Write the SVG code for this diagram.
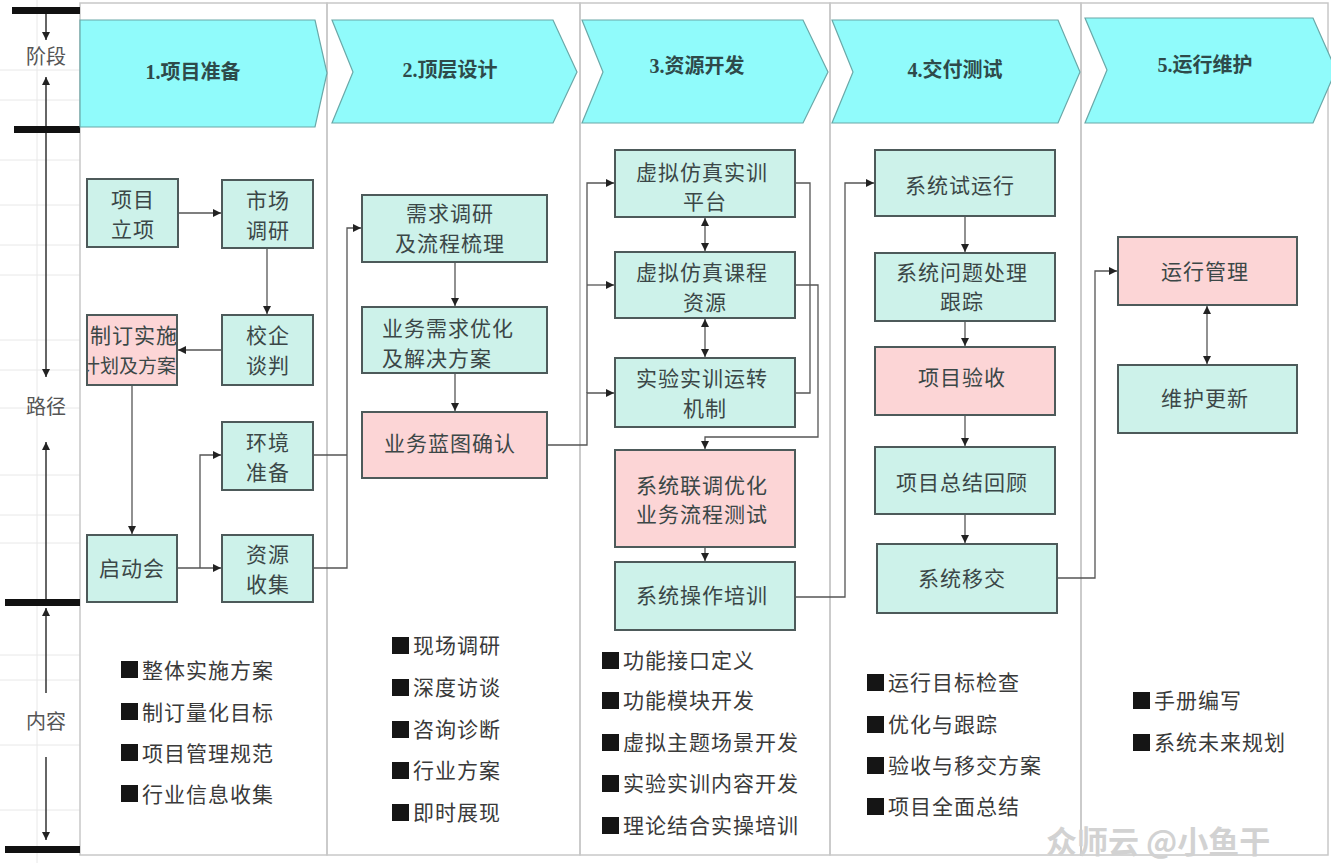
<svg xmlns="http://www.w3.org/2000/svg" width="1331" height="863" viewBox="0 0 1331 863">
<style>
.bg{fill:#ffffff}
.grid{stroke:#e8e8e8;stroke-width:1}
.col{fill:none;stroke:#c8c8c8;stroke-width:1.5}
.bar{fill:#111}
.axis{stroke:#333;stroke-width:1.5;fill:none}
.axl{font-family:"Noto Sans CJK SC",sans-serif;font-size:20px;fill:#555;text-anchor:middle}
.hdr{fill:#90fbfb;stroke:#6aa8a8;stroke-width:1.2}
.ht{font-family:"Liberation Serif","Noto Sans CJK SC",serif;font-size:20px;font-weight:bold;fill:#2e4a4a;text-anchor:middle}
.g{fill:#cdf2ea;stroke:#4d5a5a;stroke-width:2}
.p{fill:#fcd5d6;stroke:#4d5a5a;stroke-width:2}
.t{font-family:"Noto Sans CJK SC",sans-serif;font-size:21px;fill:#3b4747;text-anchor:middle;letter-spacing:1px}
.ln{stroke:#555;stroke-width:1.3;fill:none}
.li{font-family:"Noto Sans CJK SC",sans-serif;font-size:21px;fill:#3a3a3a;letter-spacing:1px}
.sq{fill:#151515}
.wm{font-family:"Noto Sans CJK SC",sans-serif;font-size:31px;fill:#d2d2d2;font-weight:bold}
</style>
<defs>
<marker id="ah" markerWidth="9" markerHeight="9" refX="8" refY="4" orient="auto-start-reverse" markerUnits="userSpaceOnUse">
<path d="M0,0 L8,4 L0,8 z" fill="#222"/>
</marker>
<clipPath id="clipZD"><rect x="88" y="316" width="88" height="68"/></clipPath>
</defs>
<rect class="bg" x="0" y="0" width="1331" height="863"/>
<g id="grid">
<line class="grid" x1="0" y1="70" x2="80" y2="70"/>
<line class="grid" x1="0" y1="100" x2="80" y2="100"/>
<line class="grid" x1="0" y1="160" x2="80" y2="160"/>
<line class="grid" x1="0" y1="205" x2="80" y2="205"/>
<line class="grid" x1="0" y1="245" x2="80" y2="245"/>
<line class="grid" x1="0" y1="275" x2="80" y2="275"/>
<line class="grid" x1="0" y1="340" x2="80" y2="340"/>
<line class="grid" x1="0" y1="370" x2="80" y2="370"/>
<line class="grid" x1="0" y1="408" x2="80" y2="408"/>
<line class="grid" x1="0" y1="475" x2="80" y2="475"/>
<line class="grid" x1="0" y1="515" x2="80" y2="515"/>
<line class="grid" x1="0" y1="543" x2="80" y2="543"/>
<line class="grid" x1="0" y1="655" x2="80" y2="655"/>
<line class="grid" x1="0" y1="680" x2="80" y2="680"/>
<line class="grid" x1="0" y1="745" x2="80" y2="745"/>
<line class="grid" x1="0" y1="810" x2="80" y2="810"/>
<line class="grid" x1="37" y1="0" x2="37" y2="863"/>
</g>
<g id="columns">
<rect class="col" x="80" y="3" width="247" height="852"/>
<rect class="col" x="327" y="3" width="253" height="852"/>
<rect class="col" x="580" y="3" width="250" height="852"/>
<rect class="col" x="830" y="3" width="251" height="852"/>
<rect class="col" x="1081" y="3" width="247" height="852"/>
</g>
<g id="axis">
<rect class="bar" x="12" y="7" width="68" height="7"/>
<rect class="bar" x="14" y="126" width="66" height="7"/>
<rect class="bar" x="5" y="599" width="75" height="7"/>
<rect class="bar" x="5" y="846" width="75" height="7"/>
<line class="axis" x1="46" y1="14" x2="46" y2="40" marker-end="url(#ah)"/>
<line class="axis" x1="46" y1="126" x2="46" y2="77" marker-end="url(#ah)"/>
<line class="axis" x1="46" y1="133" x2="46" y2="377" marker-end="url(#ah)"/>
<line class="axis" x1="46" y1="599" x2="46" y2="442" marker-end="url(#ah)"/>
<line class="axis" x1="46" y1="693" x2="46" y2="608" marker-end="url(#ah)"/>
<line class="axis" x1="46" y1="757" x2="46" y2="840" marker-end="url(#ah)"/>
<text class="axl" x="46" y="64">阶段</text>
<text class="axl" x="46" y="414">路径</text>
<text class="axl" x="46" y="729">内容</text>
</g>
<g id="stage1"><polygon class="hdr" points="80,20 315,20 327,73 315,127 80,127"/><text class="ht" x="193" y="79">1.项目准备</text></g>
<g id="stage2"><polygon class="hdr" points="332,20 553,20 577,72 553,123 332,123 353,72"/><text class="ht" x="450" y="77">2.顶层设计</text></g>
<g id="stage3"><polygon class="hdr" points="582,20 803,20 828,72 803,123 582,123 603,72"/><text class="ht" x="697" y="73">3.资源开发</text></g>
<g id="stage4"><polygon class="hdr" points="832,20 1058,20 1080,72 1058,123 832,123 853,72"/><text class="ht" x="955" y="77">4.交付测试</text></g>
<g id="stage5"><polygon class="hdr" points="1085,18 1313,18 1336,70 1313,123 1085,123 1107,70"/><text class="ht" x="1205" y="72">5.运行维护</text></g>
<g id="connectors">
<line class="ln" x1="178" y1="213" x2="221" y2="213" marker-end="url(#ah)"/>
<line class="ln" x1="267" y1="248" x2="267" y2="314" marker-end="url(#ah)"/>
<line class="ln" x1="222" y1="350" x2="178" y2="350" marker-end="url(#ah)"/>
<line class="ln" x1="132" y1="385" x2="132" y2="534" marker-end="url(#ah)"/>
<line class="ln" x1="177" y1="568" x2="221" y2="568" marker-end="url(#ah)"/>
<polyline class="ln" points="200,568 200,455 221,455" marker-end="url(#ah)"/>
<polyline class="ln" points="313,455 347,455"/>
<polyline class="ln" points="313,568 347,568 347,228 361,228" marker-end="url(#ah)"/>
<line class="ln" x1="455" y1="262" x2="455" y2="306" marker-end="url(#ah)"/>
<line class="ln" x1="455" y1="373" x2="455" y2="411" marker-end="url(#ah)"/>
<polyline class="ln" points="547,445 587,445 587,393 614,393" marker-end="url(#ah)"/>
<polyline class="ln" points="587,393 587,183 614,183" marker-end="url(#ah)"/>
<polyline class="ln" points="587,285 614,285" marker-end="url(#ah)"/>
<line class="ln" x1="705" y1="218" x2="705" y2="251" marker-start="url(#ah)" marker-end="url(#ah)"/>
<line class="ln" x1="705" y1="319" x2="705" y2="357" marker-start="url(#ah)" marker-end="url(#ah)"/>
<polyline class="ln" points="795,183 810,183 810,393 795,393"/>
<polyline class="ln" points="795,285 818,285 818,437 705,437 705,449" marker-end="url(#ah)"/>
<line class="ln" x1="705" y1="547" x2="705" y2="561" marker-end="url(#ah)"/>
<polyline class="ln" points="795,597 845,597 845,183 874,183" marker-end="url(#ah)"/>
<line class="ln" x1="965" y1="216" x2="965" y2="252" marker-end="url(#ah)"/>
<line class="ln" x1="965" y1="321" x2="965" y2="346" marker-end="url(#ah)"/>
<line class="ln" x1="965" y1="415" x2="965" y2="446" marker-end="url(#ah)"/>
<line class="ln" x1="965" y1="514" x2="965" y2="543" marker-end="url(#ah)"/>
<polyline class="ln" points="1057,578 1095,578 1095,271 1117,271" marker-end="url(#ah)"/>
<line class="ln" x1="1207" y1="306" x2="1207" y2="364" marker-start="url(#ah)" marker-end="url(#ah)"/>
</g>
<g id="n-xmlx"><rect class="g" x="87" y="179" width="91" height="68"/><text class="t" x="133" y="207">项目</text><text class="t" x="133" y="237">立项</text></g>
<g id="n-scdy"><rect class="g" x="222" y="180" width="91" height="68"/><text class="t" x="268" y="208">市场</text><text class="t" x="268" y="238">调研</text></g>
<g id="n-xqtp"><rect class="g" x="222" y="315" width="91" height="70"/><text class="t" x="268" y="343">校企</text><text class="t" x="268" y="373">谈判</text></g>
<g id="n-zdss"><rect class="p" x="87" y="315" width="90" height="70"/><g clip-path="url(#clipZD)"><text class="t" x="178" y="343" style="text-anchor:end">制订实施</text><text class="t" x="176" y="373" style="text-anchor:end;font-size:19px;letter-spacing:0">计划及方案</text></g></g>
<g id="n-qdh"><rect class="g" x="87" y="535" width="90" height="67"/><text class="t" x="132" y="576">启动会</text></g>
<g id="n-hjzb"><rect class="g" x="222" y="422" width="91" height="68"/><text class="t" x="268" y="450">环境</text><text class="t" x="268" y="480">准备</text></g>
<g id="n-zysj"><rect class="g" x="222" y="535" width="91" height="67"/><text class="t" x="268" y="562">资源</text><text class="t" x="268" y="592">收集</text></g>
<g id="n-xqdy"><rect class="g" x="362" y="195" width="185" height="67"/><text class="t" x="450" y="221">需求调研</text><text class="t" x="450" y="251">及流程梳理</text></g>
<g id="n-ywxq"><rect class="g" x="362" y="307" width="185" height="66"/><text class="t" x="382" y="336" style="text-anchor:start">业务需求优化</text><text class="t" x="382" y="366" style="text-anchor:start">及解决方案</text></g>
<g id="n-ywlt"><rect class="p" x="362" y="412" width="185" height="66"/><text class="t" x="450" y="451">业务蓝图确认</text></g>
<g id="n-xnpt"><rect class="g" x="615" y="150" width="180" height="67"/><text class="t" x="702" y="180">虚拟仿真实训</text><text class="t" x="705" y="209">平台</text></g>
<g id="n-xnkc"><rect class="g" x="615" y="252" width="180" height="66"/><text class="t" x="702" y="280">虚拟仿真课程</text><text class="t" x="705" y="310">资源</text></g>
<g id="n-syyz"><rect class="g" x="615" y="358" width="180" height="69"/><text class="t" x="702" y="386">实验实训运转</text><text class="t" x="705" y="416">机制</text></g>
<g id="n-xtlt"><rect class="p" x="615" y="450" width="180" height="97"/><text class="t" x="702" y="493">系统联调优化</text><text class="t" x="702" y="522">业务流程测试</text></g>
<g id="n-czpx"><rect class="g" x="615" y="562" width="180" height="68"/><text class="t" x="702" y="603">系统操作培训</text></g>
<g id="n-xtsy"><rect class="g" x="875" y="150" width="180" height="66"/><text class="t" x="960" y="193">系统试运行</text></g>
<g id="n-wtcl"><rect class="g" x="875" y="253" width="180" height="68"/><text class="t" x="962" y="280">系统问题处理</text><text class="t" x="962" y="309">跟踪</text></g>
<g id="n-xmys"><rect class="p" x="875" y="347" width="180" height="68"/><text class="t" x="962" y="385">项目验收</text></g>
<g id="n-zjhg"><rect class="g" x="875" y="447" width="180" height="67"/><text class="t" x="962" y="490">项目总结回顾</text></g>
<g id="n-xtyj"><rect class="g" x="877" y="544" width="180" height="69"/><text class="t" x="962" y="586">系统移交</text></g>
<g id="n-yxgl"><rect class="p" x="1118" y="237" width="179" height="68"/><text class="t" x="1205" y="279">运行管理</text></g>
<g id="n-whgx"><rect class="g" x="1118" y="365" width="179" height="68"/><text class="t" x="1205" y="406">维护更新</text></g>
<g id="list1">
<rect class="sq" x="121" y="661" width="17" height="17"/><text class="li" x="142" y="678">整体实施方案</text>
<rect class="sq" x="121" y="703" width="17" height="17"/><text class="li" x="142" y="720">制订量化目标</text>
<rect class="sq" x="121" y="744" width="17" height="17"/><text class="li" x="142" y="761">项目管理规范</text>
<rect class="sq" x="121" y="785" width="17" height="17"/><text class="li" x="142" y="802">行业信息收集</text>
</g>
<g id="list2">
<rect class="sq" x="392" y="637" width="17" height="17"/><text class="li" x="413" y="653">现场调研</text>
<rect class="sq" x="392" y="679" width="17" height="17"/><text class="li" x="413" y="695">深度访谈</text>
<rect class="sq" x="392" y="721" width="17" height="17"/><text class="li" x="413" y="737">咨询诊断</text>
<rect class="sq" x="392" y="762" width="17" height="17"/><text class="li" x="413" y="778">行业方案</text>
<rect class="sq" x="392" y="804" width="17" height="17"/><text class="li" x="413" y="820">即时展现</text>
</g>
<g id="list3">
<rect class="sq" x="602" y="652" width="17" height="17"/><text class="li" x="623" y="668">功能接口定义</text>
<rect class="sq" x="602" y="692" width="17" height="17"/><text class="li" x="623" y="708">功能模块开发</text>
<rect class="sq" x="602" y="734" width="17" height="17"/><text class="li" x="623" y="750">虚拟主题场景开发</text>
<rect class="sq" x="602" y="775" width="17" height="17"/><text class="li" x="623" y="791">实验实训内容开发</text>
<rect class="sq" x="602" y="817" width="17" height="17"/><text class="li" x="623" y="833">理论结合实操培训</text>
</g>
<g id="list4">
<rect class="sq" x="867" y="674" width="17" height="17"/><text class="li" x="888" y="690">运行目标检查</text>
<rect class="sq" x="867" y="716" width="17" height="17"/><text class="li" x="888" y="732">优化与跟踪</text>
<rect class="sq" x="867" y="757" width="17" height="17"/><text class="li" x="888" y="773">验收与移交方案</text>
<rect class="sq" x="867" y="798" width="17" height="17"/><text class="li" x="888" y="814">项目全面总结</text>
</g>
<g id="list5">
<rect class="sq" x="1133" y="692" width="17" height="17"/><text class="li" x="1154" y="708">手册编写</text>
<rect class="sq" x="1133" y="734" width="17" height="17"/><text class="li" x="1154" y="750">系统未来规划</text>
</g>
<text class="wm" x="1046" y="853">众师云 @小鱼干</text>
</svg>
